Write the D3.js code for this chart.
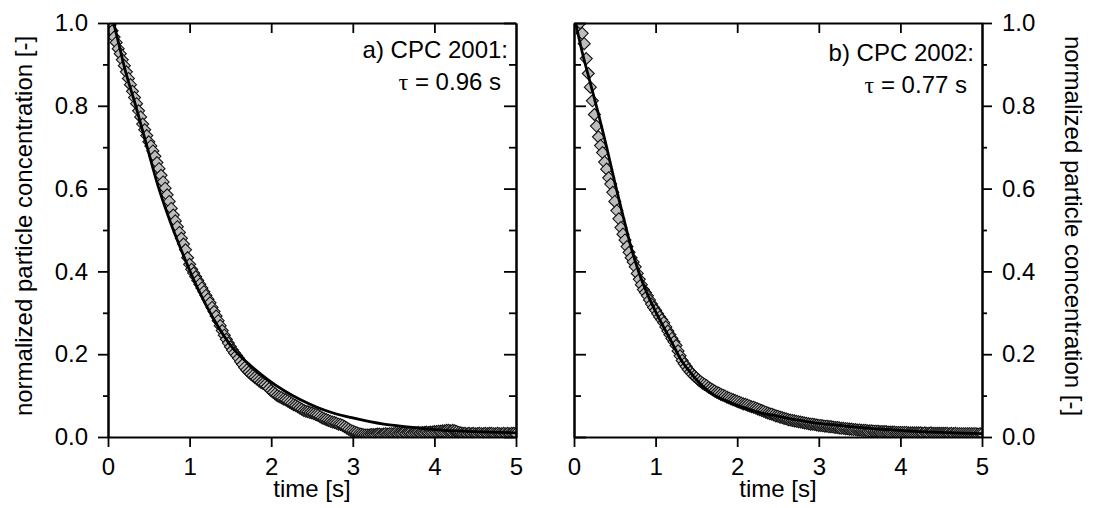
<!DOCTYPE html>
<html>
<head>
<meta charset="utf-8">
<script src="https://cdnjs.cloudflare.com/ajax/libs/d3/7.8.5/d3.min.js"></script>
<style>
  body { margin: 0; background: #fff; }
  svg text { font-family: "Liberation Sans", Arial, sans-serif; font-size: 24px; fill: #000; }
</style>
</head>
<body>
<svg width="1093" height="508"></svg>
<script>
const SVG_WIDTH = 1093;
const SVG_HEIGHT = 508;
const TOP = 23;
const BOTTOM = 437;

// sampling step of the measured concentration [s]
const DT = 0.025;

// CPC 2001, measured (start time + one value every DT)
const cpc2001_t0 = 0.025;
const cpc2001_conc = [
  0.995, 0.981, 0.966, 0.953, 0.938, 0.926, 0.911, 0.897, 0.882, 0.866,
  0.851, 0.835, 0.820, 0.805, 0.788, 0.773, 0.756, 0.742, 0.728, 0.713,
  0.703, 0.691, 0.678, 0.663, 0.648, 0.632, 0.616, 0.601, 0.585, 0.569,
  0.552, 0.536, 0.522, 0.508, 0.494, 0.480, 0.466, 0.452, 0.433, 0.417,
  0.405, 0.396, 0.387, 0.378, 0.369, 0.360, 0.351, 0.342, 0.333, 0.324,
  0.313, 0.303, 0.292, 0.281, 0.269, 0.257, 0.246, 0.236, 0.227, 0.218,
  0.210, 0.203, 0.197, 0.190, 0.182, 0.175, 0.168, 0.162, 0.157, 0.152,
  0.148, 0.144, 0.140, 0.136, 0.132, 0.129, 0.126, 0.122, 0.117, 0.112,
  0.108, 0.104, 0.100, 0.097, 0.095, 0.092, 0.090, 0.087, 0.084, 0.081,
  0.078, 0.076, 0.073, 0.070, 0.067, 0.064, 0.062, 0.061, 0.059, 0.058,
  0.056, 0.054, 0.052, 0.049, 0.046, 0.044, 0.042, 0.040, 0.038, 0.036,
  0.035, 0.033, 0.031, 0.030, 0.028, 0.025, 0.022, 0.019, 0.016, 0.014,
  0.012, 0.010, 0.008, 0.007, 0.006, 0.005, 0.005, 0.005, 0.006, 0.006,
  0.006, 0.007, 0.007, 0.006, 0.007, 0.008, 0.007, 0.008, 0.008, 0.008,
  0.009, 0.008, 0.009, 0.009, 0.010, 0.009, 0.010, 0.010, 0.009, 0.010,
  0.010, 0.011, 0.010, 0.011, 0.011, 0.012, 0.011, 0.012, 0.012, 0.013,
  0.013, 0.014, 0.014, 0.015, 0.015, 0.016, 0.016, 0.015, 0.016, 0.015,
  0.013, 0.011, 0.010, 0.009, 0.009, 0.008, 0.009, 0.008, 0.009, 0.008,
  0.008, 0.009, 0.008, 0.008, 0.009, 0.008, 0.009, 0.009, 0.008, 0.008,
  0.009, 0.008, 0.008, 0.009, 0.008, 0.009, 0.008, 0.009, 0.009, 0.008
];

// CPC 2002, measured
const cpc2002_t0 = 0.075;
const cpc2002_conc = [
  1.000, 0.975, 0.950, 0.914, 0.878, 0.845, 0.812, 0.779, 0.751, 0.725,
  0.704, 0.687, 0.664, 0.647, 0.626, 0.611, 0.591, 0.569, 0.547, 0.527,
  0.506, 0.490, 0.476, 0.460, 0.446, 0.433, 0.423, 0.411, 0.395, 0.381,
  0.368, 0.356, 0.349, 0.341, 0.331, 0.321, 0.313, 0.306, 0.298, 0.290,
  0.283, 0.276, 0.266, 0.256, 0.247, 0.238, 0.230, 0.221, 0.208, 0.196,
  0.185, 0.177, 0.170, 0.163, 0.157, 0.152, 0.147, 0.143, 0.138, 0.134,
  0.130, 0.127, 0.124, 0.120, 0.117, 0.114, 0.111, 0.108, 0.106, 0.103,
  0.101, 0.099, 0.096, 0.094, 0.092, 0.090, 0.088, 0.086, 0.084, 0.082,
  0.080, 0.079, 0.077, 0.075, 0.073, 0.072, 0.070, 0.068, 0.066, 0.064,
  0.062, 0.060, 0.058, 0.056, 0.055, 0.053, 0.051, 0.050, 0.048, 0.047,
  0.045, 0.044, 0.042, 0.041, 0.040, 0.039, 0.038, 0.037, 0.036, 0.035,
  0.034, 0.033, 0.032, 0.031, 0.031, 0.030, 0.029, 0.028, 0.028, 0.027,
  0.026, 0.026, 0.025, 0.025, 0.024, 0.023, 0.023, 0.022, 0.021, 0.021,
  0.020, 0.020, 0.019, 0.019, 0.018, 0.018, 0.017, 0.017, 0.016, 0.016,
  0.016, 0.015, 0.015, 0.015, 0.014, 0.014, 0.014, 0.013, 0.013, 0.013,
  0.013, 0.012, 0.012, 0.012, 0.012, 0.011, 0.011, 0.011, 0.011, 0.011,
  0.011, 0.010, 0.010, 0.010, 0.010, 0.010, 0.010, 0.010, 0.009, 0.010,
  0.009, 0.009, 0.010, 0.009, 0.009, 0.009, 0.009, 0.009, 0.009, 0.009,
  0.009, 0.008, 0.009, 0.008, 0.009, 0.008, 0.008, 0.008, 0.008, 0.008,
  0.008, 0.008, 0.008, 0.008, 0.008, 0.007, 0.008, 0.008
];

// fitted decay curves
const fit2001_t = [0.07, 0.15, 0.2, 0.34, 0.48, 0.6, 0.77, 0.93, 1.09, 1.28, 1.54, 1.75, 1.95,
  2.15, 2.36, 2.56, 2.76, 3.0, 3.38, 3.7, 4.0, 4.5, 5.0];
const fit2001_c = [1.0, 0.935, 0.894, 0.80, 0.70, 0.615, 0.516, 0.436, 0.363, 0.29, 0.212, 0.172, 0.140,
  0.113, 0.090, 0.072, 0.058, 0.046, 0.031, 0.024, 0.018, 0.013, 0.010];
const fit2002_t = [0.02, 0.1, 0.2, 0.3, 0.4, 0.5, 0.6, 0.7, 0.8, 0.9, 1.0, 1.1, 1.2, 1.3, 1.43, 1.55,
  1.7, 1.85, 2.0, 2.15, 2.3, 2.5, 2.65, 2.8, 3.0, 3.25, 3.5, 3.75, 4.0, 4.25, 4.5, 4.75, 5.0];
const fit2002_c = [1.0, 0.93, 0.855, 0.78, 0.70, 0.615, 0.535, 0.458, 0.395, 0.345, 0.303, 0.265, 0.228,
  0.19, 0.155, 0.128, 0.103, 0.088, 0.076, 0.066, 0.058, 0.05, 0.044, 0.039, 0.033, 0.028, 0.023,
  0.019, 0.016, 0.013, 0.011, 0.0095, 0.008];

const x_ticks = [0, 1, 2, 3, 4, 5];
const y_major = [0, 0.2, 0.4, 0.6, 0.8, 1.0];
const y_minor = [0.1, 0.3, 0.5, 0.7, 0.9];
const x_title = "time [s]";
const y_title = "normalized particle concentration [-]";

var svg = d3.select("svg");

function to_points(t0, values) {
  return values.map((c, i) => ({ t: t0 + i * DT, c: c }));
}

function to_pairs(ts, cs) {
  return ts.map((t, i) => ({ t: t, c: cs[i] }));
}

function add_axis(g, axis, transform) {
  var a = g.append("g").attr("transform", transform).call(axis);
  a.select(".domain").attr("stroke", "#000").attr("stroke-width", 2);
  a.selectAll(".tick line").attr("stroke", "#000").attr("stroke-width", 1.8);
  a.selectAll(".tick text")
    .attr("fill", "#000")
    .style("font-family", '"Liberation Sans", Arial, sans-serif')
    .style("font-size", "24px");
  return a;
}

function draw_panel(p) {
  var x = d3.scaleLinear().domain([0, 5]).range([p.left, p.right]);
  var y = d3.scaleLinear().domain([0, 1]).range([BOTTOM, TOP]);
  var g = svg.append("g");

  g.append("clipPath").attr("id", p.id + "-clip")
    .append("rect")
    .attr("x", p.left).attr("y", TOP)
    .attr("width", p.right - p.left).attr("height", BOTTOM - TOP);

  var plot = g.append("g").attr("clip-path", "url(#" + p.id + "-clip)");

  plot.selectAll("path.pt")
    .data(p.points)
    .enter()
    .append("path")
    .attr("class", "pt")
    .attr("d", "M0,-6L6,0L0,6L-6,0Z")
    .attr("transform", (d) => "translate(" + x(d.t) + "," + y(d.c) + ")")
    .attr("fill", "#bdbdbd")
    .attr("stroke", "#111")
    .attr("stroke-width", 1.1);

  plot.append("path")
    .datum(p.fit)
    .attr("fill", "none")
    .attr("stroke", "#000")
    .attr("stroke-width", 2.8)
    .attr("d", d3.line().x((d) => x(d.t)).y((d) => y(d.c)).curve(d3.curveMonotoneX));

  // bottom axis with labels, top axis ticks inside
  add_axis(g, d3.axisBottom(x).tickValues(x_ticks).tickSize(10).tickSizeOuter(0)
    .tickPadding(11).tickFormat(d3.format("d")), "translate(0," + BOTTOM + ")");
  add_axis(g, d3.axisTop(x).tickValues(x_ticks.slice(1, 5)).tickSize(-10).tickSizeOuter(0)
    .tickFormat(""), "translate(0," + TOP + ")");

  // labelled side: ticks outward; other side: ticks inward
  var isLeft = p.labelSide == "left";
  var lab_x = isLeft ? p.left : p.right;
  var in_x = isLeft ? p.right : p.left;
  var outAxis = isLeft ? d3.axisLeft : d3.axisRight;
  var inAxis = isLeft ? d3.axisRight : d3.axisLeft;

  var ya = add_axis(g, outAxis(y).tickValues(y_major).tickSize(10).tickSizeOuter(0)
    .tickPadding(10).tickFormat(d3.format(".1f")), "translate(" + lab_x + ",0)");
  ya.selectAll(".tick text")
    .attr("x", isLeft ? -20 : 20)
    .attr("text-anchor", isLeft ? "end" : "start");
  add_axis(g, outAxis(y).tickValues(y_minor).tickSize(5).tickSizeOuter(0).tickFormat(""),
    "translate(" + lab_x + ",0)");
  add_axis(g, inAxis(y).tickValues(y_major).tickSize(-12).tickSizeOuter(0).tickFormat(""),
    "translate(" + in_x + ",0)");
  add_axis(g, inAxis(y).tickValues(y_minor).tickSize(-7).tickSizeOuter(0).tickFormat(""),
    "translate(" + in_x + ",0)");

  g.append("text")
    .attr("x", (p.left + p.right) / 2)
    .attr("y", 497)
    .attr("text-anchor", "middle")
    .text(x_title);

  g.append("text")
    .attr("x", p.right - 8)
    .attr("y", p.noteY)
    .attr("text-anchor", "end")
    .text(p.note);
  var t2 = g.append("text")
    .attr("x", p.right - 15)
    .attr("y", p.noteY + 32)
    .attr("text-anchor", "end");
  t2.append("tspan").style("font-family", '"Liberation Serif", serif').text("\u03c4");
  t2.append("tspan").text(" = " + p.tau + " s");
}

draw_panel({
  id: "a", left: 108, right: 516, labelSide: "left",
  points: to_points(cpc2001_t0, cpc2001_conc),
  fit: to_pairs(fit2001_t, fit2001_c),
  note: "a) CPC 2001:", tau: "0.96", noteY: 58
});

draw_panel({
  id: "b", left: 574, right: 982, labelSide: "right",
  points: to_points(cpc2002_t0, cpc2002_conc),
  fit: to_pairs(fit2002_t, fit2002_c),
  note: "b) CPC 2002:", tau: "0.77", noteY: 61
});

svg.append("text")
  .attr("transform", "translate(32,226) rotate(-90)")
  .attr("text-anchor", "middle")
  .text(y_title);

svg.append("text")
  .attr("transform", "translate(1065,226) rotate(90)")
  .attr("text-anchor", "middle")
  .text(y_title);
</script>
</body>
</html>
